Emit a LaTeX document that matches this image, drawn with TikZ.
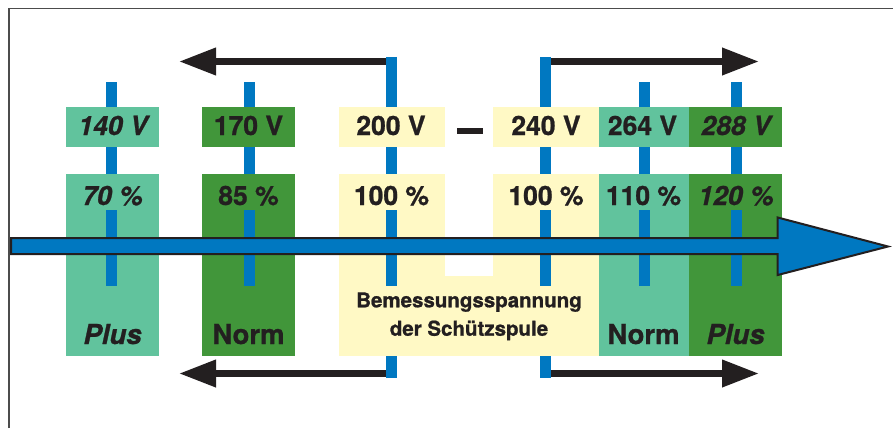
\documentclass[tikz,border=0pt]{standalone}
\usepackage{fontspec}
\setmainfont{TeX Gyre Heros}[BoldFeatures={FakeBold=0.9},BoldItalicFeatures={FakeBold=0.9}]
\usetikzlibrary{arrows.meta}
\definecolor{mgreen}{RGB}{97,195,157}
\definecolor{dgreen}{RGB}{65,150,58}
\definecolor{pyellow}{RGB}{255,249,197}
\definecolor{eblue}{RGB}{0,120,193}
\definecolor{ink}{RGB}{35,31,32}
\begin{document}
\begin{tikzpicture}[x=1pt,y=-1pt,
  lab/.style={font=\fontsize{26.5}{30}\selectfont\bfseries, text=ink, anchor=base, inner sep=0pt},
  ilab/.style={font=\fontsize{26.5}{30}\selectfont\bfseries\itshape, text=ink, anchor=base, inner sep=0pt},
  blab/.style={font=\fontsize{27.5}{30}\selectfont\bfseries, text=ink, anchor=base, inner sep=0pt},
  iblab/.style={font=\fontsize{27.5}{30}\selectfont\bfseries\itshape, text=ink, anchor=base, inner sep=0pt},
  tick/.style={eblue, line width=11pt},
  blackarrow/.style={-{Triangle[length=37pt,width=26pt]}, line width=7pt, ink},
  frameline/.style={gray!60!black, line width=1.6pt}
]
\useasboundingbox (0,0) rectangle (893,428);
% frame
\draw[frameline] (9,428) -- (9,8.5) -- (893,8.5);
% top value boxes
\fill[mgreen] (66,107) rectangle (159,147);
\fill[dgreen] (202,107) rectangle (295,147);
\fill[pyellow] (339,107) rectangle (445,147);
\fill[pyellow] (493,107) rectangle (599,147);
\fill[mgreen] (599,107) rectangle (689,147);
\fill[dgreen] (689,107) rectangle (782,147);
% lower columns
\fill[mgreen] (66,174) rectangle (159,356);
\fill[dgreen] (202,174) rectangle (295,356);
\fill[pyellow] (339,174) rectangle (445,356);
\fill[pyellow] (493,174) rectangle (599,356);
\fill[pyellow] (339,276) rectangle (599,356);
\fill[mgreen] (599,174) rectangle (689,356);
\fill[dgreen] (689,174) rectangle (782,356);
% dash between 200 V and 240 V
\fill[ink] (457,128) rectangle (483,134);
% range arrows
\coordinate (t3) at (391.5,61.5);
\coordinate (t4) at (545.5,61.5);
\coordinate (b3) at (391.5,373.5);
\coordinate (b4) at (545.5,373.5);
\coordinate (tl) at (179,61.5);
\coordinate (tr) at (759,61.5);
\coordinate (bl) at (179,373.5);
\coordinate (br) at (759,373.5);
\draw[blackarrow] (t3) -- (tl);
\draw[blackarrow] (t4) -- (tr);
\draw[blackarrow] (b3) -- (bl);
\draw[blackarrow] (b4) -- (br);
% ticks
\foreach \x in {111.5,249.5,644.5,736.5}{
  \draw[tick] (\x,82) -- (\x,107);
  \draw[tick] (\x,147) -- (\x,174);
  \draw[tick] (\x,210) -- (\x,286);
}
\foreach \x in {391.5,545.5}{
  \draw[tick] (\x,57) -- (\x,107);
  \draw[tick] (\x,147) -- (\x,174);
  \draw[tick] (\x,210) -- (\x,286);
  \draw[tick] (\x,356) -- (\x,378);
}
% main axis arrow
\filldraw[fill=eblue, draw=ink, line width=2pt, line join=miter]
  (11,238) -- (777.7,238) -- (777.7,217.5) -- (888,246.5) -- (777.7,275) -- (777.7,254) -- (11,254) -- cycle;
% labels: voltages
\node[ilab] (v140) at (113,135) {140 V};
\node[lab]  (v170) at (248.5,135) {170 V};
\node[lab]  (v200) at (391,135) {200 V};
\node[lab]  (v240) at (546,135) {240 V};
\node[lab]  (v264) at (642.5,135) {264 V};
\node[ilab] (v288) at (736,135) {288 V};
% labels: percentages
\node[ilab] (p70)  at (112.5,205) {70 \%};
\node[lab]  (p85)  at (248.5,205) {85 \%};
\node[lab]  (p100a) at (391.5,205) {100 \%};
\node[lab]  (p100b) at (546,205) {100 \%};
\node[lab]  (p110) at (643.5,205) {110 \%};
\node[ilab] (p120) at (736,205) {120 \%};
% labels: categories
\node[iblab] (plusl) at (112.5,344) {Plus};
\node[blab]  (norml) at (248.5,344) {Norm};
\node[blab]  (normr) at (643.5,344) {Norm};
\node[iblab] (plusr) at (735.5,344) {Plus};
\node[font=\fontsize{20.5}{28.4}\selectfont\bfseries, text=ink, align=center, inner sep=0pt] (rated) at (469,316.3) {Bemessungsspannung\\der Schützspule};
\end{tikzpicture}
\end{document}
